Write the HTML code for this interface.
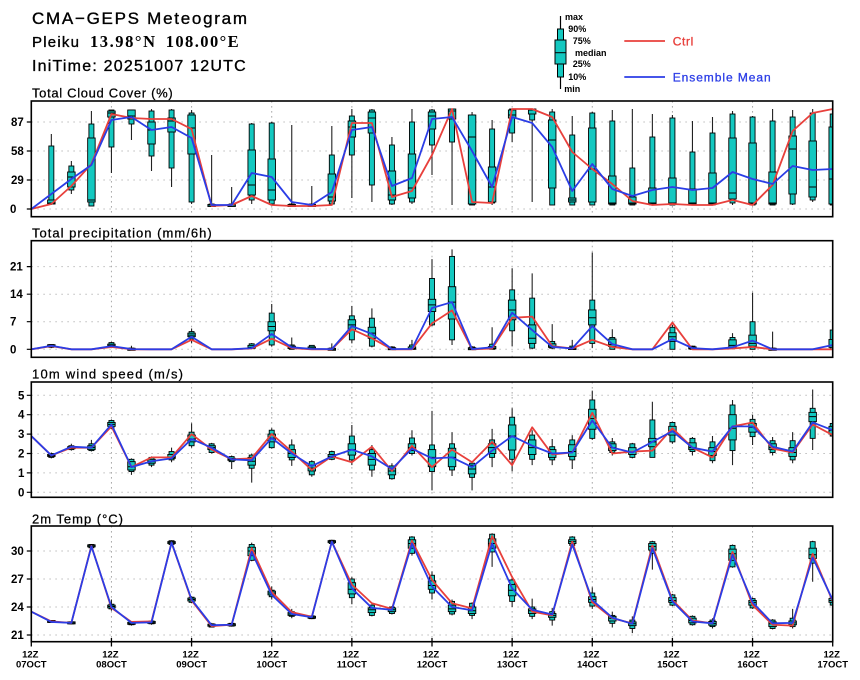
<!DOCTYPE html>
<html><head><meta charset="utf-8"><style>
html,body{margin:0;padding:0;background:#fff;}
svg{display:block;font-family:"Liberation Sans",sans-serif;}
</style></head><body>
<svg id="s" width="860" height="680" viewBox="0 0 860 680" xmlns="http://www.w3.org/2000/svg">
<defs>
<clipPath id="c0"><rect x="31.3" y="101" width="801.4" height="115.7"/></clipPath>
<clipPath id="c1"><rect x="31.3" y="240.7" width="801.4" height="116.6"/></clipPath>
<clipPath id="c2"><rect x="31.3" y="382" width="801.4" height="115.3"/></clipPath>
<clipPath id="c3"><rect x="31.3" y="526" width="801.4" height="115.7"/></clipPath>
</defs>
<rect width="860" height="680" fill="#fff"/>

<!-- titles -->
<g stroke="#000" stroke-width="0.35">
<text x="32" y="24" font-size="17" textLength="215" lengthAdjust="spacing" fill="#000">CMA−GEPS Meteogram</text>
<text x="32" y="47" font-size="15" textLength="47" lengthAdjust="spacing" fill="#000">Pleiku</text>
<text x="32" y="71" font-size="16" textLength="213.7" lengthAdjust="spacing" fill="#000">IniTime: 20251007 12UTC</text>
</g>
<text x="90" y="47" font-size="16.5" font-family="Liberation Serif, serif" font-weight="bold" textLength="65" lengthAdjust="spacing" fill="#000">13.98°N</text>
<text x="165.7" y="47" font-size="16.5" font-family="Liberation Serif, serif" font-weight="bold" textLength="73" lengthAdjust="spacing" fill="#000">108.00°E</text>

<!-- legend -->
<line x1="560.5" y1="16" x2="560.5" y2="89" stroke="#000" stroke-width="1.2"/>
<rect x="557.5" y="29" width="6" height="48" fill="#14c8c0" stroke="#000" stroke-width="1"/>
<rect x="555" y="40" width="11" height="24" fill="#14c8c0" stroke="#000" stroke-width="1"/>
<line x1="555" y1="52.7" x2="566" y2="52.7" stroke="#000" stroke-width="1"/>
<g font-size="9" font-weight="bold" fill="#000">
<text x="565" y="20">max</text>
<text x="568.3" y="32">90%</text>
<text x="572.7" y="44">75%</text>
<text x="575" y="56">median</text>
<text x="572.7" y="67">25%</text>
<text x="568.3" y="80">10%</text>
<text x="564.3" y="92">min</text>
</g>
<line x1="624.3" y1="41" x2="665" y2="41" stroke="#e8403c" stroke-width="1.8"/>
<text x="672.7" y="45.3" font-size="12" fill="#e8403c" stroke="#e8403c" stroke-width="0.3" textLength="20.6" lengthAdjust="spacing">Ctrl</text>
<line x1="624.3" y1="77" x2="665" y2="77" stroke="#2b3de6" stroke-width="1.8"/>
<text x="672.7" y="81.3" font-size="12" fill="#2b3de6" stroke="#2b3de6" stroke-width="0.3" textLength="98" lengthAdjust="spacing">Ensemble Mean</text>

<!-- panel titles -->
<g font-size="13" fill="#000" stroke="#000" stroke-width="0.25">
<text x="32" y="97.3" textLength="140.7" lengthAdjust="spacing">Total Cloud Cover (%)</text>
<text x="32" y="237.3" textLength="179.7" lengthAdjust="spacing">Total precipitation (mm/6h)</text>
<text x="32" y="378.3" textLength="151" lengthAdjust="spacing">10m wind speed (m/s)</text>
<text x="32" y="523.3" textLength="91" lengthAdjust="spacing">2m Temp (°C)</text>
</g>

<!-- grids -->
<g fill="none">
<path stroke="#a8a8a8" stroke-width="1" stroke-dasharray="1.6 3.4" d="M111.44 101V216.7M191.58 101V216.7M271.72 101V216.7M351.86 101V216.7M432 101V216.7M512.14 101V216.7M592.28 101V216.7M672.42 101V216.7M752.56 101V216.7
M111.44 240.7V357.3M191.58 240.7V357.3M271.72 240.7V357.3M351.86 240.7V357.3M432 240.7V357.3M512.14 240.7V357.3M592.28 240.7V357.3M672.42 240.7V357.3M752.56 240.7V357.3
M111.44 382V497.3M191.58 382V497.3M271.72 382V497.3M351.86 382V497.3M432 382V497.3M512.14 382V497.3M592.28 382V497.3M672.42 382V497.3M752.56 382V497.3
M111.44 526V641.7M191.58 526V641.7M271.72 526V641.7M351.86 526V641.7M432 526V641.7M512.14 526V641.7M592.28 526V641.7M672.42 526V641.7M752.56 526V641.7"/>
<path stroke="#c0c0c0" stroke-width="1" stroke-dasharray="1.6 4.4" d="M31.3 209H832.7M31.3 180H832.7M31.3 151H832.7M31.3 122H832.7
M31.3 349.3H832.7M31.3 321.7H832.7M31.3 294.2H832.7M31.3 266.6H832.7
M31.3 492.3H832.7M31.3 472.9H832.7M31.3 453.5H832.7M31.3 434.1H832.7M31.3 414.7H832.7M31.3 395.3H832.7
M31.3 635H832.7M31.3 607H832.7M31.3 579H832.7M31.3 551H832.7"/>
</g>

<g id="data"></g>

<!-- frames -->
<g fill="none" stroke="#000" stroke-width="1.6">
<rect x="31.3" y="101" width="801.4" height="115.7"/>
<rect x="31.3" y="240.7" width="801.4" height="116.6"/>
<rect x="31.3" y="382" width="801.4" height="115.3"/>
<rect x="31.3" y="526" width="801.4" height="115.7"/>
</g>
<!-- y ticks -->
<path fill="none" stroke="#000" stroke-width="1.2" d="M26.8 209H31.3M26.8 180H31.3M26.8 151H31.3M26.8 122H31.3
M26.8 349.3H31.3M26.8 321.7H31.3M26.8 294.2H31.3M26.8 266.6H31.3
M26.8 492.3H31.3M26.8 472.9H31.3M26.8 453.5H31.3M26.8 434.1H31.3M26.8 414.7H31.3M26.8 395.3H31.3
M26.8 635H31.3M26.8 607H31.3M26.8 579H31.3M26.8 551H31.3"/>
<!-- x ticks -->
<path fill="none" stroke="#000" stroke-width="1.3" d="M31.3 638V646.5M111.44 638V646.5M191.58 638V646.5M271.72 638V646.5M351.86 638V646.5M432 638V646.5M512.14 638V646.5M592.28 638V646.5M672.42 638V646.5M752.56 638V646.5M832.7 638V646.5"/>

<!-- y labels -->
<g font-size="11.5" font-weight="bold" fill="#000">
<text x="11" y="126">87</text><text x="11" y="155">58</text><text x="11" y="184">29</text><text x="10" y="213">0</text>
<text x="10" y="270.6">21</text><text x="10" y="298.2">14</text><text x="10" y="325.7">7</text><text x="10" y="353.3">0</text>
<text x="18" y="399.3">5</text><text x="18" y="418.7">4</text><text x="18" y="438.1">3</text><text x="18" y="457.5">2</text><text x="18" y="476.9">1</text><text x="18" y="496.3">0</text>
<text x="11" y="555">30</text><text x="11" y="583">27</text><text x="11" y="611">24</text><text x="11" y="639">21</text>
</g>
<!-- x labels -->
<g font-size="9.5" font-weight="bold" fill="#000" text-anchor="middle">
<text x="30.3" y="657.5">12Z</text><text x="31.3" y="667.5">07OCT</text>
<text x="110.4" y="657.5">12Z</text><text x="111.44" y="667.5">08OCT</text>
<text x="190.6" y="657.5">12Z</text><text x="191.58" y="667.5">09OCT</text>
<text x="270.7" y="657.5">12Z</text><text x="271.72" y="667.5">10OCT</text>
<text x="350.9" y="657.5">12Z</text><text x="351.86" y="667.5">11OCT</text>
<text x="431" y="657.5">12Z</text><text x="432" y="667.5">12OCT</text>
<text x="511.1" y="657.5">12Z</text><text x="512.14" y="667.5">13OCT</text>
<text x="591.3" y="657.5">12Z</text><text x="592.28" y="667.5">14OCT</text>
<text x="671.4" y="657.5">12Z</text><text x="672.42" y="667.5">15OCT</text>
<text x="751.6" y="657.5">12Z</text><text x="752.56" y="667.5">16OCT</text>
<text x="831.7" y="657.5">12Z</text><text x="832.7" y="667.5">17OCT</text>
</g>
</svg>
<script>
(function(){
const X=i=>31.3+20.035*i;
const P=[
{y:v=>209-v,
box:[null,[4,5,5,6,9,63,75],[15,19,22,32,37,43,48],[3,3,7,9,71,85,98],[36,62,92,96,98,99,99],[69,85,90,93,99,99,99],[38,53,65,79,87,98,100],[22,41,77,88,91,99,100],[5,7,55,81,94,96,99],[3,3,3,4,4,5,54],
[3,3,3,4,4,5,22],[5,9,14,24,59,85,86],[4,5,9,19,50,86,87],[3,3,3,4,4,5,84],[3,3,3,4,4,5,23],[4,5,8,12,35,54,83],[11,54,72,82,88,93,100],[7,24,76,91,97,99,100],[4,5,9,14,38,64,72],[5,7,11,21,55,87,100],
[34,64,80,93,97,99,100],[4,67,90,98,100,100,100],[4,4,5,72,94,94,97],[4,6,7,22,42,80,89],[67,76,91,94,99,100,100],[7,89,95,99,100,100,100],[4,4,21,69,89,97,100],[4,4,7,9,11,74,93],[4,4,7,40,81,96,97],[4,4,5,6,33,88,99],
[4,4,5,6,12,41,100],[4,4,5,6,21,72,95],[4,4,5,6,31,91,94],[4,4,5,6,20,57,88],[4,4,5,6,36,76,92],[4,6,10,16,71,95,98],[4,4,5,6,66,92,93],[4,4,5,6,37,88,100],[4,5,15,60,73,92,99],[7,9,12,22,68,96,100],[4,4,5,30,82,95,100]],
c:[0,5,23,45,95,91,90,90,80,3,4,13,4,3,3,4,86,86,12,18,54,100,7,6,100,100,92,57,40,25,8,4,5,4,4,9,4,24,78,96,100],
m:[0,15,30,44,89,92,79,82,71,4,4,36,32,7,4,17,79,82,23,31,90,92,58,22,92,86,62,18,45,20,13,19,22,19,21,37,30,25,43,39,40]},
{y:v=>349.3-3.936*v,
box:[null,[0.3,0.5,0.7,0.9,1.1,1.2,1.3],null,null,[0.3,0.7,0.8,1.0,1.3,1.7,1.9],[0,0,0,0,0,0.1,0.9],null,null,[1.5,2.6,3.2,3.6,4.1,4.5,5.3],null,
null,[0,0.2,0.3,0.5,1.0,1.4,1.6],[0.7,1.1,4.7,5.8,7,9.2,11.5],[0,0,0.2,0.4,0.8,1.1,3],[0,0,0.1,0.3,0.6,1.0,1.1],[0,0,0,0,0,0.1,1.5],[1.5,2.4,4.9,6.2,7.5,8.5,11],[0.5,0.8,2.8,4.1,5.6,7.9,10.4],[0,0,0,0.1,0.3,0.6,0.8],[0,0,0,0.2,0.6,1.1,2.4],
[5.9,6.2,9.6,11.3,12.7,18,22.9],[1.1,2.4,7.7,12,15.9,23.6,25.4],[0,0,0,0.1,0.3,0.6,0.8],[0,0,0.1,0.3,0.7,1.3,5.6],[0.8,4.7,7.5,10,12.5,15.1,20.6],[0,0.3,1.5,2.8,6.2,13,19.3],[0,0.3,0.5,0.8,1.4,2,6.4],[0,0,0,0.1,0.4,0.8,2.4],[0.3,1.5,6.2,8,10,12.5,24.6],[0,0,0.7,1.2,2.6,3,5.1],
null,null,[0,0,2,3.2,4.2,5.6,6.2],[0,0,0.1,0.3,0.6,0.8,0.9],null,[0,0.3,0.6,1,2.4,3,4.1],[0,0,0.8,1.5,3.6,7,14.4],[0,0,0,0,0,0.1,4.5],null,null,[0,0,0.5,1,2.5,4.9,5]],
c:[0,0.8,0,0,0.6,0,0,0,2.4,0,0,0.2,2.7,0.3,0,0,5.1,2.8,0,0,6.6,9.9,0,0.2,8,8.3,0.8,0.2,2.4,0.6,0,0,6.8,0,0,0.2,0.6,0,0,0,0],
m:[0,0.9,0,0,0.8,0.05,0,0,3.2,0,0,0.3,3.9,0.5,0.1,0.05,5.9,3.9,0.05,0.1,10.5,12,0.05,0.5,9.3,4.9,0.6,0.2,5.9,1.3,0,0,2.6,0.3,0,0.5,2.2,0,0,0,1.1]},
{y:v=>492.3-19.4*v,
box:[null,[1.75,1.8,1.85,1.9,1.95,2.0,2.05],[2.15,2.2,2.25,2.3,2.35,2.4,2.5],[2.1,2.15,2.2,2.3,2.4,2.5,2.7],[3.25,3.3,3.4,3.5,3.6,3.7,3.75],[0.9,1.07,1.15,1.32,1.58,1.7,1.75],[1.3,1.4,1.5,1.6,1.7,1.8,1.85],[1.55,1.67,1.75,1.8,1.95,2.1,2.3],[2.3,2.4,2.6,2.75,2.95,3.1,3.55],[2.0,2.05,2.2,2.3,2.4,2.5,2.55],
[1.2,1.58,1.65,1.7,1.75,1.84,1.9],[0.5,1.24,1.4,1.6,1.8,1.92,2.0],[2.25,2.3,2.6,2.8,3.0,3.2,3.3],[1.36,1.67,1.8,2.0,2.2,2.44,2.73],[0.8,0.9,1.1,1.25,1.4,1.58,1.65],[1.65,1.7,1.8,1.85,1.95,2.1,2.15],[1.4,1.67,1.92,2.2,2.5,2.9,3.47],[0.8,1.15,1.4,1.7,2.0,2.2,2.44],[0.65,0.7,0.9,1.1,1.25,1.36,1.5],[1.9,2.0,2.15,2.3,2.5,2.8,3.2],
[0.1,1.07,1.32,1.8,2.2,2.44,4.2],[0.84,1.15,1.32,1.8,2.27,2.5,3.1],[0.1,0.77,0.95,1.2,1.4,1.5,1.58],[1.3,1.8,2.0,2.3,2.5,2.7,3.27],[1.07,1.7,2.18,2.9,3.47,3.87,4.33],[1.4,1.7,1.95,2.3,2.7,2.95,3.2],[1.4,1.67,1.8,2.0,2.2,2.35,2.75],[1.2,1.67,1.85,2.1,2.45,2.7,2.95],[2.7,2.78,3.25,3.8,4.28,4.76,5.24],[1.9,2.05,2.15,2.3,2.5,2.6,2.8],
[1.75,1.8,1.95,2.1,2.3,2.5,2.55],[1.8,1.8,2.35,2.6,2.78,3.73,4.67],[2.5,2.6,2.95,3.15,3.4,3.6,3.65],[1.9,2.1,2.2,2.3,2.55,2.78,2.85],[1.5,1.63,1.9,2.1,2.3,2.6,2.9],[1.4,2.15,2.7,3.3,4.0,4.5,4.76],[2.44,2.87,3.1,3.35,3.55,3.76,4.0],[1.9,2.05,2.2,2.3,2.5,2.66,2.85],[1.5,1.67,1.85,2.05,2.3,2.66,3.1],[2.18,2.78,3.64,3.9,4.12,4.33,5.3],[2.7,2.9,3.0,3.2,3.4,3.55,3.7]],
c:[2.9,1.9,2.3,2.3,3.4,1.3,1.8,1.8,3.0,2.2,1.7,1.75,3.0,2.1,1.15,1.85,1.55,2.35,1.1,2.4,1.3,2.2,1.55,2.6,1.4,3.35,1.95,2.05,4.1,2.0,2.1,2.15,3.3,2.3,1.8,3.4,3.6,2.25,2.05,3.5,2.95],
m:[2.9,1.9,2.35,2.3,3.5,1.3,1.6,1.75,2.75,2.3,1.7,1.65,2.8,2.0,1.35,1.85,2.2,1.85,1.2,2.25,1.75,1.8,1.3,2.15,2.9,2.4,2.0,2.05,3.7,2.3,2.05,2.6,3.15,2.3,2.1,3.4,3.4,2.35,2.1,3.6,3.2]},
{y:v=>551+(30-v)*9.333,
box:[null,[22.3,22.35,22.4,22.45,22.5,22.55,22.6],[22.15,22.2,22.25,22.3,22.35,22.4,22.45],[30.3,30.35,30.45,30.55,30.65,30.7,30.75],[23.6,23.8,23.9,24.05,24.2,24.3,24.8],[22.0,22.1,22.15,22.25,22.35,22.45,22.5],[22.1,22.2,22.25,22.35,22.45,22.5,22.6],[30.6,30.7,30.8,30.9,31.0,31.1,31.15],[24.4,24.5,24.65,24.8,24.95,25.05,25.15],[21.8,21.85,21.95,22.05,22.15,22.2,22.3],
[21.9,21.95,22.0,22.1,22.2,22.25,22.3],[28.9,29.0,29.5,30.0,30.4,30.7,30.9],[24.8,25.1,25.3,25.5,25.7,25.8,26.2],[22.8,23.0,23.1,23.25,23.4,23.5,23.8],[22.7,22.75,22.8,22.9,23.0,23.05,23.1],[30.7,30.8,30.9,31.0,31.1,31.15,31.2],[24.3,25.0,25.4,25.9,26.6,27.0,27.2],[23.0,23.1,23.4,23.7,23.9,24.2,24.3],[23.2,23.3,23.5,23.7,23.9,24.0,24.1],[29.5,29.75,30.3,30.8,31.2,31.5,31.6],
[24.8,25.5,25.9,26.3,26.8,27.4,27.8],[23.1,23.25,23.5,23.8,24.2,24.6,24.8],[22.7,23.1,23.3,23.6,24.0,24.4,24.5],[28.3,29.9,30.3,30.8,31.3,31.8,31.9],[24.0,24.6,25.2,25.8,26.4,26.9,27.3],[22.7,23.0,23.3,23.6,23.8,24.0,24.9],[22.0,22.6,22.9,23.1,23.3,23.5,23.9],[30.4,30.6,30.8,31.0,31.2,31.5,31.6],[23.8,24.1,24.5,24.8,25.1,25.5,26.1],[21.8,22.25,22.5,22.8,23.0,23.1,23.5],
[21.2,21.7,22.0,22.2,22.4,22.6,23.0],[28.0,29.75,30.1,30.5,30.8,31.0,31.1],[24.1,24.2,24.5,24.7,25.0,25.3,25.4],[22.0,22.1,22.3,22.55,22.8,23.0,23.1],[21.7,21.9,22.05,22.25,22.45,22.6,22.8],[28.2,28.3,29.0,29.7,30.2,30.6,30.7],[23.8,23.9,24.2,24.5,24.7,24.9,25.0],[21.6,21.7,21.9,22.2,22.4,22.6,22.7],[21.7,21.9,22.1,22.3,22.5,22.8,23.8],[26.7,28.7,29.2,29.6,30.3,31.0,31.1],[24.1,24.2,24.5,24.7,24.9,25.1,25.2]],
c:[23.5,22.45,22.3,30.55,23.9,22.4,22.45,30.9,24.7,21.95,22.1,30.3,25.6,23.45,22.95,31.0,26.4,24.4,23.8,31.1,26.9,24.4,23.85,31.6,27.2,23.5,23.1,31.0,24.5,22.8,22.25,30.6,24.75,22.55,22.25,29.9,24.2,22.1,22.0,29.7,24.6],
m:[23.5,22.4,22.3,30.5,24.0,22.3,22.35,30.9,24.8,22.05,22.1,29.9,25.3,23.25,22.9,31.0,26.0,23.9,23.7,30.8,26.2,24.0,23.65,30.8,26.0,23.7,23.2,30.7,24.75,22.85,22.2,30.3,24.6,22.45,22.25,29.6,24.5,22.25,22.3,29.3,24.75]}
];
const teal="#14c8c0";
let s="";
const f=v=>v.toFixed(2);
P.forEach((p,k)=>{
  let g="";
  const Y=p.y;
  p.box.forEach((b,i)=>{
    if(!b) return;
    const x=X(i);
    const [mn,p10,p25,p50,p75,p90,mx]=b;
    g+=`<line x1="${f(x)}" x2="${f(x)}" y1="${f(Y(mx))}" y2="${f(Y(mn))}" stroke="#222" stroke-width="1.1"/>`;
    let y1=Y(p90),y2=Y(p10);
    if(y2-y1<2){const m=(y1+y2)/2;y1=m-1;y2=m+1;}
    g+=`<rect x="${f(x-2.5)}" y="${f(y1)}" width="5" height="${f(y2-y1)}" fill="${teal}" stroke="#000" stroke-width="0.9"/>`;
    y1=Y(p75);y2=Y(p25);
    if(y2-y1<2){const m=(y1+y2)/2;y1=m-1;y2=m+1;}
    g+=`<rect x="${f(x-3.75)}" y="${f(y1)}" width="7.5" height="${f(y2-y1)}" fill="${teal}" stroke="#000" stroke-width="0.9"/>`;
    g+=`<line x1="${f(x-3.75)}" x2="${f(x+3.75)}" y1="${f(Y(p50))}" y2="${f(Y(p50))}" stroke="#000" stroke-width="1"/>`;
  });
  const pl=arr=>arr.map((v,i)=>f(X(i))+","+f(Y(v))).join(" ");
  g+=`<polyline points="${pl(p.c)}" fill="none" stroke="#e8403c" stroke-width="1.8" stroke-linejoin="round"/>`;
  g+=`<polyline points="${pl(p.m)}" fill="none" stroke="#2b3de6" stroke-width="1.8" stroke-linejoin="round"/>`;
  s+=`<g clip-path="url(#c${k})">${g}</g>`;
});
document.getElementById("data").innerHTML=s;
})();
</script>
</body></html>
